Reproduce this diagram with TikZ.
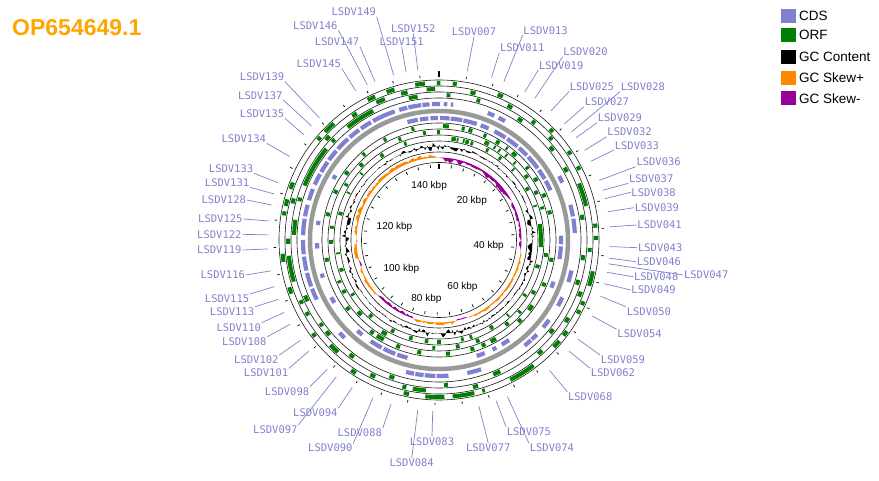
\documentclass[tikz,border=0pt]{standalone}
\usepackage{fontspec}
\setmainfont{Liberation Sans}
\newfontfamily\monofont{DejaVu Sans Mono}
\usetikzlibrary{positioning}
\definecolor{cdsblue}{RGB}{128,128,208}
\definecolor{orfgreen}{RGB}{0,128,0}
\definecolor{skewpos}{RGB}{255,136,0}
\definecolor{skewneg}{RGB}{153,0,153}
\definecolor{lblblue}{RGB}{128,128,204}
\definecolor{titleorange}{RGB}{255,165,0}
\tikzset{
  ringline/.style={line width=0.6pt, draw=black!90},
  orf/.style={line width=4pt, draw=orfgreen},
  cds/.style={line width=4.2pt, draw=cdsblue},
  backbone/.style={line width=4.5pt, draw=black!40},
  tickmark/.style={line width=0.7pt, draw=black},
  lbl/.style={text=lblblue, font=\monofont\fontsize{10.5}{12}\selectfont, inner sep=0.6pt},
  leader/.style={draw=lblblue, line width=0.7pt},
  kbplbl/.style={font=\fontsize{10}{12}\selectfont, inner sep=0.8pt},
  legbox/.style={minimum width=15pt, minimum height=14pt, inner sep=0pt},
  legtxt/.style={font=\fontsize{13.5}{16}\selectfont, inner sep=0pt},
}
\begin{document}
\begin{tikzpicture}[x=1pt, y=1pt]
\useasboundingbox (-439,-241) rectangle (440,240);

\node[font=\bfseries\fontsize{23}{26}\selectfont, text=titleorange, anchor=west, inner sep=0pt] (acc) at (-427,212) {OP654649.1};

\foreach \r in {160,154,148,142,117,111,105,99,88,77.5}
  \draw[ringline] (0,0) circle[radius=\r];
\draw[backbone] (0,0) circle[radius=129];

\foreach \a/\b in {340.5/343.5, 351.3/354.9, 359.2/360.5, 5/6.5, 22/24, 45/46.5, 55.5/57, 62/63.5, 84/85.5, 88.5/90, 101.5/107, 113/114.5, 116.5/118, 125.5/127.5, 130/133, 143/153, 163/164, 167/175, 178/185, 191/193, 212/214, 232/233.5, 250/252.5, 262/265, 279/280.5, 282.5/285, 289/291.5, 309.5/311, 313.5/318, 333/336}
  \draw[orf] ({90-\a}:157) arc[start angle={90-\a}, end angle={90-\b}, radius=157];
\foreach \a/\b in {335.5/339, 345.5/348, 355.3/358.5, 12/14, 27/29, 38/39.5, 47/48.5, 68/77, 93/94.5, 110/112, 121/123, 137/139, 165/167, 185/190, 192.5/194, 205/207, 222/226, 240/241.5, 245/246.5, 254/264, 268.5/270.5, 284/286, 311.5/313.5, 325/327}
  \draw[orf] ({90-\a}:151) arc[start angle={90-\a}, end angle={90-\b}, radius=151];
\foreach \a/\b in {3/4.5, 15/16.5, 33/35, 50/52, 60/62, 80/82, 96/98, 106/108, 128/130, 155/158, 176.5/178, 198/200, 216/218, 229/231, 233.5/235, 245/247.5, 272/278, 285.5/287, 292/309, 312.5/314, 321/333, 348/351.5}
  \draw[orf] ({90-\a}:145) arc[start angle={90-\a}, end angle={90-\b}, radius=145];

\foreach \a/\b in {343/346.5, 347/352.5, 353/356, 357/360.5, 2/3.5, 5/6, 21/24, 26/29, 62/65, 75/80, 81/87, 103/108, 115/119, 126/130, 134/137, 137.5/141, 162/168, 176/181, 181.5/186, 186.5/190, 190.5/194, 224/227, 244/249, 250/256, 257/263, 264/270, 272/279, 280/285, 287/292, 294/299, 300/305, 306/311, 312/318, 319/324, 325/330, 331/341}
  \draw[cds] ({90-\a}:136) arc[start angle={90-\a}, end angle={90-\b}, radius=136];
\foreach \a/\b in {345/350, 351/355, 356/359.5, 0.5/5, 5.5/11, 11.5/18, 20/24, 27/33, 34/40, 41/46, 47/54, 55/60, 61/66, 88/92, 93/99, 110/113, 145/149, 152/154, 158/162, 195/200, 201/207, 208/214, 219/222, 239/242, 252/254, 266/268.5, 277/279, 300/302}
  \draw[cds] ({90-\a}:122) arc[start angle={90-\a}, end angle={90-\b}, radius=122];

\foreach \a/\b in {346/347.5, 2/5, 11.5/13, 15/17, 23/24.5, 30/32, 36/37, 40/42.5, 50/51.5, 57/59, 66/68, 75/77, 99/101, 112/114, 125/128, 134/136, 150/153, 156/158, 162/164, 174.5/176.5, 189/191, 200/202, 209/213, 215/217, 232/234, 259/261, 282/284, 294/296, 305/307, 318/319.5, 331/332.5}
  \draw[orf] ({90-\a}:114) arc[start angle={90-\a}, end angle={90-\b}, radius=114];
\foreach \a/\b in {351.5/353, 359/360.5, 25/27.5, 30.5/31.5, 33.5/34.5, 38/39, 44/45, 53/55, 63/65, 72/73.5, 97/99, 118/120, 131/132.5, 140/142, 158/160, 169/171, 182/183.5, 209/212, 226/228.5, 240.5/242.5, 246.5/248, 268/270, 276/277.5, 300/301.5, 313/315, 338/339.5}
  \draw[orf] ({90-\a}:108) arc[start angle={90-\a}, end angle={90-\b}, radius=108];
\foreach \a/\b in {7/9.5, 10/11, 13.5/14.5, 15/17, 18/19.5, 27.5/29, 36/37.5, 46/47, 59/61, 70/71, 81/94, 104/106, 122/123.5, 137/138, 148/150, 161/162.5, 166/167.5, 179/181, 186/188, 195/197, 206/208, 221/223, 237/238.5, 252/254, 262/263, 284/286, 297/298, 310/311, 325/327, 340/341.5}
  \draw[orf] ({90-\a}:102) arc[start angle={90-\a}, end angle={90-\b}, radius=102];

\pgfmathsetseed{11}
\fill[black, even odd rule] plot[domain=0:360, samples=301] ({90-\x}:{93.5+(2*rnd-1)*(1.6+3*abs(cos(2*\x))^4)}) -- cycle (0,0) circle[radius=93.5];

\foreach \a/\b/\m/\c in {0/62/-4.8/skewneg, 62/98/-3/skewneg, 98/160/2.4/skewpos, 160/168/-1.8/skewneg, 168/198/3/skewpos, 198/228/-3.4/skewneg, 228/251/3.2/skewpos, 251/256/-1.8/skewneg, 256/268/3.6/skewpos, 268/271/-1.8/skewneg, 271/360/4.2/skewpos} {
  \pgfmathtruncatemacro\ns{(\b-\a)/1.6+3}
  \fill[\c] ({90-\a}:82.5) -- plot[domain=\a:\b, samples=\ns] ({90-\x}:{82.5+\m*(0.15+0.85*rnd)*min(1,4*sin(180*(\x-\a)/(\b-\a)))}) -- ({90-\b}:82.5) arc[start angle={90-\b}, end angle={90-\a}, radius=82.5] -- cycle;
}

\draw[tickmark, line width=1.4pt] (90:163) -- (90:169);
\foreach \k in {4,8,...,148}
  \draw[tickmark] ({90-\k*2.38727}:163) -- ({90-\k*2.38727}:165.5);
\draw[tickmark, line width=1.3pt] (90:76) -- (90:70.5);
\foreach \k in {4,8,...,148}
  \draw[tickmark] ({90-\k*2.38727}:75.5) -- ({90-\k*2.38727}:72.5);
\foreach \k/\anc in {20/north east, 40/east, 60/south east, 80/south, 100/south west, 120/north west, 140/north west}
  \node[kbplbl, anchor=\anc] (k\k) at ({90-\k*2.38727}:66) {\k\ kbp};

\foreach \n/\t/\ex/\ey/\anc in {
  149/344.6/-62.3/223.3/south east, 146/335.2/-100.7/210/south east,
  147/338.0/-79/193.3/south east, 145/330.8/-97.3/171.7/south east,
  152/352.9/-25.7/206.7/south, 151/348.9/-37.3/193.3/south,
  139/315.6/-154/158.3/south east, 137/311.8/-155.7/140/south east,
  135/307.9/-154/121.7/south east, 134/299.2/-172.3/96.7/south east,
  133/289.6/-185/66.7/south east, 131/285.6/-189/52.7/south east,
  128/281.8/-192.3/40/east, 125/276.4/-195.7/21/east,
  122/271.7/-196.7/5.7/east, 119/267.0/-196.7/-10/east,
  116/259.6/-193.3/-35/east, 115/254.2/-189/-54/north east,
  113/249.7/-184/-66.7/north east, 110/244.9/-177.3/-82.7/north east,
  108/240.5/-171.7/-96.7/north east, 102/234.1/-159.7/-115/north east,
  101/229.5/-150/-128.3/north east, 098/220.8/-129/-146.7/north east,
  097/216.9/-140.7/-185/north east, 094/210.5/-100.7/-168.3/north east,
  090/202.7/-85.7/-203.3/north east, 088/196.3/-56.3/-188.3/north east,
  084/187.1/-27.3/-218.3/north, 083/182.1/-7/-196.7/north,
  077/166.5/49.3/-203.3/north, 075/160.4/67/-186.7/north west,
  074/156.4/90/-203.3/north west, 068/139.7/128.3/-151.7/north west,
  062/130.5/151/-128.3/north west, 059/125.5/161/-115/north west,
  054/116.4/177.7/-89.3/north west, 050/109.2/187/-66.7/north west,
  049/104.8/191.7/-50/west, 048/100.9/194.3/-36.7/west,
  047/98.0/244.3/-35/west, 046/96.1/197/-21.7/west,
  043/92.2/198.3/-7.7/west, 041/85.6/197.7/15/west,
  039/80.5/195/32.3/west, 038/76.0/191.7/47.7/west,
  037/73.1/189.3/56.7/south west, 036/69.6/196.7/73.3/south west,
  033/62.6/175/90/south west, 032/58.4/167.7/103.3/south west,
  029/53.3/158/117.3/south west, 028/50.8/181/148.3/south west,
  027/47.2/145/133.3/south west, 025/40.9/130/148.3/south west,
  020/34.1/123.7/183.3/south west, 019/30.1/99.3/170/south west,
  013/22.3/83.7/205/south west, 011/17.9/60.3/187.3/south west,
  007/9.5/35/203.3/south}
{
  \coordinate (c\n) at ({90-\t}:171);
  \node[lbl, anchor=\anc] (l\n) at (\ex,\ey) {LSDV\n};
  \draw[leader] (c\n) -- (l\n.\anc);
}

\node[legbox, fill=cdsblue] (kcds) at (349.2,224.3) {};
\node[legbox, fill=orfgreen] (korf) at (349.2,204.7) {};
\node[legbox, fill=black] (kgc) at (349.2,183.3) {};
\node[legbox, fill=skewpos] (kpos) at (349.2,162) {};
\node[legbox, fill=skewneg] (kneg) at (349.2,141.7) {};
\node[legtxt, right=3pt of kcds] (tcds) {CDS};
\node[legtxt, right=3pt of korf] (torf) {ORF};
\node[legtxt, right=3pt of kgc] (tgc) {GC Content};
\node[legtxt, right=3pt of kpos] (tpos) {GC Skew+};
\node[legtxt, right=3pt of kneg] (tneg) {GC Skew-};
\end{tikzpicture}
\end{document}
